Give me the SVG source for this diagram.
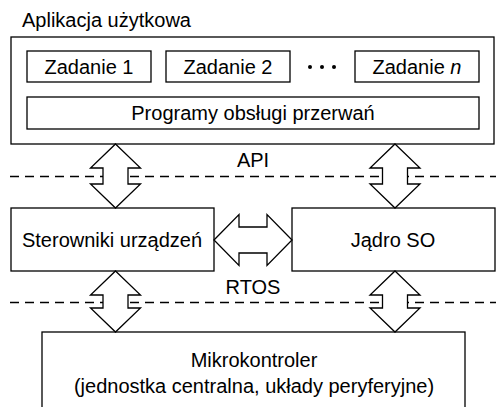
<svg xmlns="http://www.w3.org/2000/svg" width="496" height="407" viewBox="0 0 496 407">
<style>
.box{fill:#fff;stroke:#000;stroke-width:1.3}
.t{font-family:"Liberation Sans",Arial,sans-serif;font-size:20px;fill:#000;text-anchor:middle}
.dash{stroke:#000;stroke-width:1.3;stroke-dasharray:9 6;fill:none}
.arr{fill:#fff;stroke:#000;stroke-width:1.3;stroke-linejoin:miter}
</style>
<rect width="496" height="407" fill="#fff"/>
<g id="app">
<text class="t" x="22" y="27" style="text-anchor:start">Aplikacja użytkowa</text>
<rect class="box" x="11" y="37" width="483" height="107"/>
</g>
<g id="zad1"><rect class="box" x="27" y="51" width="124" height="31"/><text class="t" x="89" y="73.5">Zadanie 1</text></g>
<g id="zad2"><rect class="box" x="166" y="51" width="124" height="31"/><text class="t" x="228" y="73.5">Zadanie 2</text></g>
<g id="dots"><circle cx="310" cy="67" r="2"/><circle cx="322" cy="67" r="2"/><circle cx="334" cy="67" r="2"/></g>
<g id="zadn"><rect class="box" x="355" y="51" width="124" height="31"/><text class="t" x="417" y="73.5">Zadanie <tspan font-style="italic">n</tspan></text></g>
<g id="isr"><rect class="box" x="27" y="97" width="452" height="32"/><text class="t" x="253" y="120">Programy obsługi przerwań</text></g>
<g id="layers">
<line class="dash" x1="10" y1="176.5" x2="496" y2="176.5"/>
<text class="t" x="253" y="167">API</text>
<line class="dash" x1="10" y1="302.5" x2="496" y2="302.5"/>
<text class="t" x="253" y="294">RTOS</text>
</g>
<g id="drivers"><rect class="box" x="11" y="208" width="203" height="63"/><text class="t" x="112" y="247">Sterowniki urządzeń</text></g>
<g id="kernel"><rect class="box" x="292" y="208" width="203" height="63"/><text class="t" x="393" y="247">Jądro SO</text></g>
<g id="mcu"><rect class="box" x="42" y="332" width="423" height="80"/><text class="t" x="254" y="367">Mikrokontroler</text><text class="t" x="254" y="393">(jednostka centralna, układy peryferyjne)</text></g>
<g id="connectors">
<path class="arr" d="M115.5,144 L140.5,168 L128,168 L128,184 L140.5,184 L115.5,208 L90.5,184 L103,184 L103,168 L90.5,168 Z"/>
<path class="arr" d="M395,144 L420,168 L407.5,168 L407.5,184 L420,184 L395,208 L370,184 L382.5,184 L382.5,168 L370,168 Z"/>
<path class="arr" d="M115.5,271 L140.5,295 L128,295 L128,308 L140.5,308 L115.5,332 L90.5,308 L103,308 L103,295 L90.5,295 Z"/>
<path class="arr" d="M395,271 L420,295 L407.5,295 L407.5,308 L420,308 L395,332 L370,308 L382.5,308 L382.5,295 L370,295 Z"/>
<path class="arr" d="M214,240 L239,214.5 L239,227 L267,227 L267,214.5 L292,240 L267,265.5 L267,253 L239,253 L239,265.5 Z"/>
</g>
</svg>
